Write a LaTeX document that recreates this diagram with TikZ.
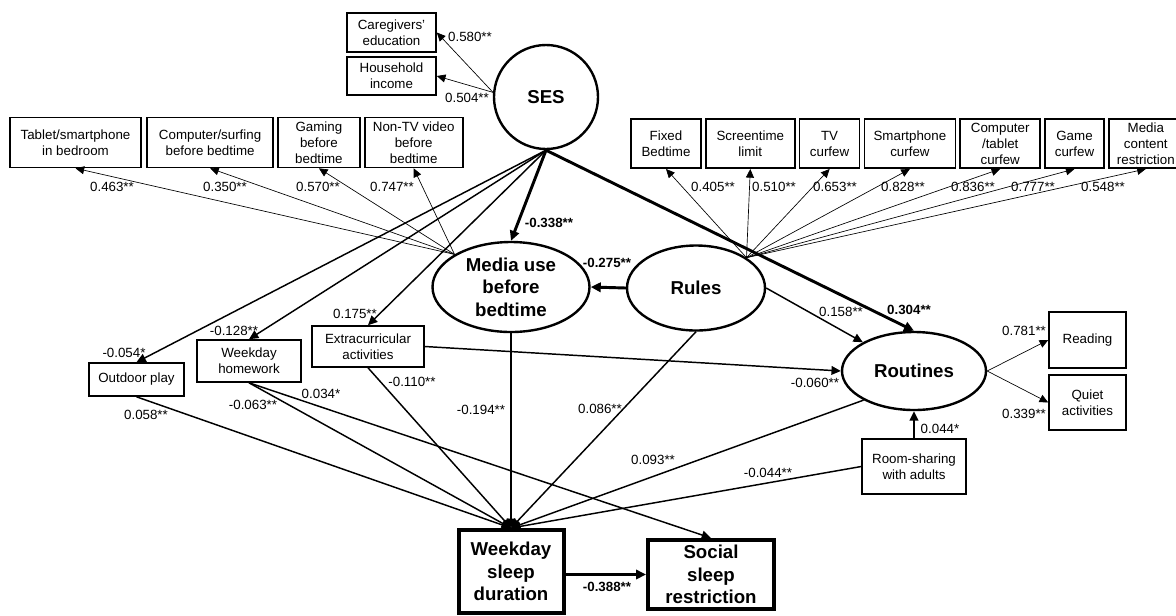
\documentclass[tikz,border=0pt]{standalone}
\usepackage{fontspec}
\setmainfont{Liberation Sans}
\usepackage{tikz}
\usetikzlibrary{arrows.meta,positioning,shapes.geometric}

\begin{document}
\begin{tikzpicture}[
  x=0.75pt, y=-0.75pt,
  node distance=2.4pt,
  ind/.style={draw, line width=1.2pt, align=center, inner xsep=1pt, inner ysep=0pt, font=\fontsize{10}{12}\selectfont},
  lat/.style={draw, ellipse, line width=1.8pt, align=center, inner sep=0pt, font=\fontsize{14}{17}\selectfont\bfseries},
  outc/.style={draw, line width=3pt, align=center, inner sep=0pt, font=\fontsize{14}{17}\selectfont\bfseries},
  lab/.style={inner sep=0pt, font=\fontsize{10}{12}\selectfont},
  blab/.style={inner sep=0pt, font=\fontsize{10}{12}\selectfont\bfseries},
  loadarr/.style={-{Triangle[length=6.5pt,width=6pt]}, line width=0.5pt},
  regarr/.style={-{Triangle[length=7pt,width=6.5pt]}, line width=1.1pt},
  boldarr/.style={-{Triangle[length=7.5pt,width=7pt]}, line width=2.2pt}
]
\useasboundingbox (0,0) rectangle (1176,615);

\node[lat, circle, minimum size=78pt] (ses) at (546,97) {SES};
\node[lat, minimum width=117.75pt, minimum height=67.5pt] (media) at (511,287) {Media use\\before\\bedtime};
\node[lat, minimum width=103.5pt, minimum height=63.75pt] (rules) at (696,288) {Rules};
\node[lat, minimum width=108pt, minimum height=58.5pt] (routines) at (914,371) {Routines};

\node[outc, minimum width=78.75pt, minimum height=62.25pt] (sleep) at (511,571.5) {Weekday\\sleep\\duration};
\node[outc, minimum width=94.5pt, minimum height=51.75pt] (social) at (711,574.5) {Social\\sleep\\restriction};

\node[ind, minimum width=66.75pt, minimum height=29.25pt] (educ) at (391.5,32.5) {Caregivers'\\education};
\node[ind, minimum width=66.75pt, minimum height=28.5pt] (income) at (391.5,76) {Household\\income};

\node[ind, minimum width=98pt, minimum height=37.5pt] (tablet) at (75.5,142.5) {Tablet/smartphone\\in bedroom};
\node[ind, minimum width=94.5pt, minimum height=37.5pt, right=3.5pt of tablet] (surf) {Computer/surfing\\before bedtime};
\node[ind, minimum width=61.5pt, minimum height=37.5pt, right=of surf] (gaming) {Gaming\\before\\bedtime};
\node[ind, minimum width=73.5pt, minimum height=37.5pt, right=of gaming] (nontv) {Non-TV video\\before\\bedtime};

\node[ind, minimum width=52.5pt, minimum height=37pt] (fixbed) at (666,143.5) {Fixed\\Bedtime};
\node[ind, minimum width=66.75pt, minimum height=37pt, right=of fixbed] (screen) {Screentime\\limit};
\node[ind, minimum width=45pt, minimum height=37pt, right=of screen] (tvcurf) {TV\\curfew};
\node[ind, minimum width=68.25pt, minimum height=37pt, right=of tvcurf] (phonecurf) {Smartphone\\curfew};
\node[ind, minimum width=60pt, minimum height=37pt, right=of phonecurf] (pccurf) {Computer\\/tablet\\curfew};
\node[ind, minimum width=44.25pt, minimum height=37pt, right=of pccurf] (gamecurf) {Game\\curfew};
\node[ind, minimum width=55.5pt, minimum height=37pt, right=of gamecurf] (content) {Media\\content\\restriction};

\node[ind, minimum width=57.75pt, minimum height=42pt] (reading) at (1087.5,340) {Reading};
\node[ind, minimum width=57.75pt, minimum height=41.25pt, below=4pt of reading] (quiet) {Quiet\\activities};
\node[ind, minimum width=78pt, minimum height=41.25pt] (roomshare) at (914,466.5) {Room-sharing\\with adults};
\node[ind, minimum width=84pt, minimum height=30.75pt] (extra) at (368,346.5) {Extracurricular\\activities};
\node[ind, minimum width=78pt, minimum height=31.5pt] (homework) at (249,361) {Weekday\\homework};
\node[ind, minimum width=71.25pt, minimum height=24.75pt] (outdoor) at (136.5,379.5) {Outdoor play};

\draw[loadarr] (ses.175) -- (educ.east);
\draw[loadarr] (ses.175) -- (income.east);
\draw[loadarr] (media.150) -- (tablet.south);
\draw[loadarr] (media.150) -- (surf.south);
\draw[loadarr] (media.150) -- (gaming.south);
\draw[loadarr] (media.150) -- (nontv.south);
\draw[loadarr] (rules.31) -- (fixbed.south);
\draw[loadarr] (rules.31) -- (screen.south);
\draw[loadarr] (rules.31) -- (tvcurf.south);
\draw[loadarr] (rules.31) -- (phonecurf.south);
\draw[loadarr] (rules.31) -- (pccurf.south);
\draw[loadarr] (rules.31) -- (gamecurf.south);
\draw[loadarr] (rules.31) -- (content.south);
\draw[loadarr] (routines.east) -- (reading.west);
\draw[loadarr] (routines.east) -- (quiet.west);

\draw[boldarr] (ses.south) -- (media.north);
\draw[boldarr] (ses.south) -- (routines.north);
\draw[boldarr] (rules.west) -- (media.east);
\draw[regarr] (ses.south) -- (outdoor.north);
\draw[regarr] (ses.south) -- (homework.north);
\draw[regarr] (ses.south) -- (extra.north);
\draw[regarr] (rules.east) -- (routines);
\draw[regarr] (extra.east) -- (routines.west);
\draw[regarr] (roomshare.north) -- (routines.south);
\draw[regarr] (outdoor.south) -- (sleep.north);
\draw[regarr] (homework.south) -- (sleep.north);
\draw[regarr] (homework.south) -- (social.north);
\draw[regarr] (extra.south) -- (sleep.north);
\draw[regarr] (media.south) -- (sleep.north);
\draw[regarr] (rules.south) -- (sleep.north);
\draw[regarr] (routines.210) -- (sleep.north);
\draw[regarr] (roomshare.west) -- (sleep.north);
\draw[boldarr] (sleep.east |- social.west) -- (social.west);

\node[lab] (l-educ) at (470,37) {0.580**};
\node[lab] (l-income) at (467,98) {0.504**};
\node[lab] (l-tablet) at (112,187) {0.463**};
\node[lab] (l-surf) at (225,187) {0.350**};
\node[lab] (l-gaming) at (318,187) {0.570**};
\node[lab] (l-nontv) at (392,187) {0.747**};
\node[lab] (l-fixbed) at (713,187) {0.405**};
\node[lab] (l-screen) at (774,187) {0.510**};
\node[lab] (l-tvcurf) at (835,187) {0.653**};
\node[lab] (l-phonecurf) at (903,187) {0.828**};
\node[lab] (l-pccurf) at (973,187) {0.836**};
\node[lab] (l-gamecurf) at (1033,187) {0.777**};
\node[lab] (l-content) at (1103,187) {0.548**};
\node[blab] (l-sesmedia) at (549,223) {-0.338**};
\node[blab] (l-rulesmedia) at (607,263) {-0.275**};
\node[blab] (l-sesroutines) at (909,310) {0.304**};
\node[lab] (l-rulesroutines) at (841,312) {0.158**};
\node[lab] (l-extraroutines) at (815,383) {-0.060**};
\node[lab] (l-reading) at (1024,331) {0.781**};
\node[lab] (l-quiet) at (1024,414) {0.339**};
\node[lab] (l-roomroutines) at (940,429) {0.044*};
\node[lab] (l-roomsleep) at (768,473) {-0.044**};
\node[lab] (l-routinessleep) at (653,460) {0.093**};
\node[lab] (l-rulessleep) at (600,409) {0.086**};
\node[lab] (l-mediasleep) at (481,410) {-0.194**};
\node[lab] (l-extrasleep) at (412,382) {-0.110**};
\node[lab] (l-homesleep) at (253,405) {-0.063**};
\node[lab] (l-homesocial) at (321,394) {0.034*};
\node[lab] (l-outsleep) at (146,415) {0.058**};
\node[lab] (l-sesout) at (124,353) {-0.054*};
\node[lab] (l-seshome) at (234,331) {-0.128**};
\node[lab] (l-sesextra) at (355,314) {0.175**};
\node[blab] (l-sleepsocial) at (607,587) {-0.388**};
\end{tikzpicture}
\end{document}
